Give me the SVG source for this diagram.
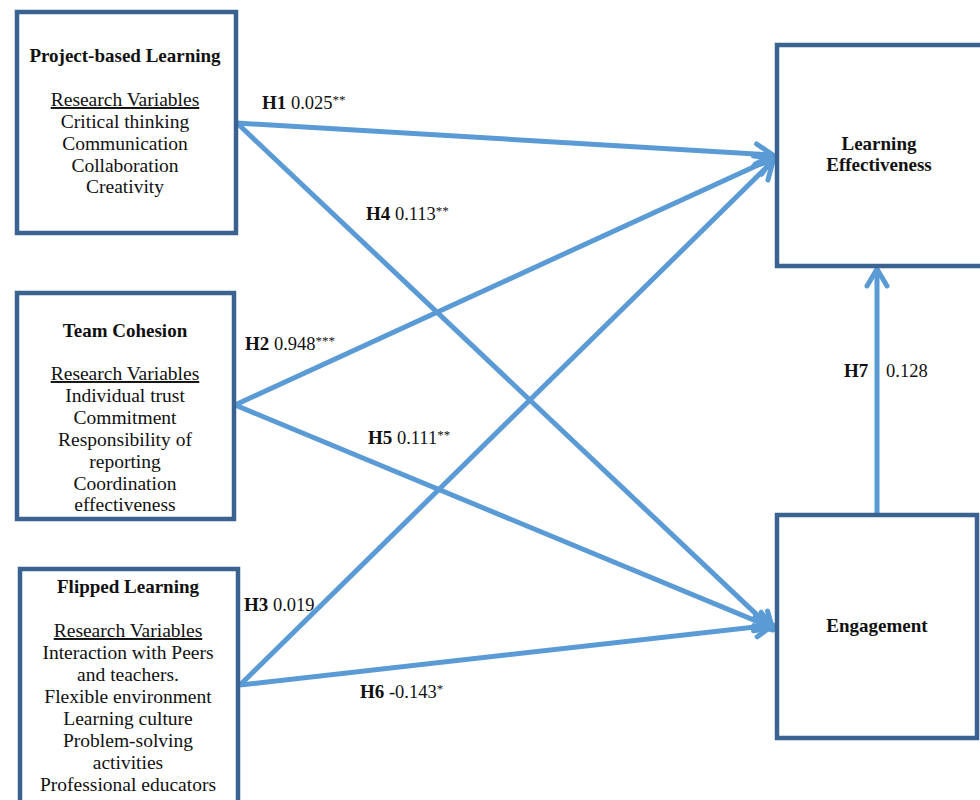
<svg xmlns="http://www.w3.org/2000/svg" width="980" height="800" viewBox="0 0 980 800">
<style>
.box{fill:#fff;stroke:#3A6391;stroke-width:4.5}
.t{font-family:"Liberation Serif","Times New Roman",serif;font-size:19.5px;fill:#111;text-anchor:middle}
.b{font-weight:bold;font-size:19px}
.u{text-decoration:underline}
.lab{font-family:"Liberation Serif","Times New Roman",serif;font-size:18.5px;fill:#111}
.con{stroke:#5B9BD5;stroke-width:5;fill:none;marker-end:url(#arr)}
</style>
<defs>
<marker id="arr" markerUnits="userSpaceOnUse" markerWidth="30" markerHeight="30" viewBox="0 0 30 30" refX="26" refY="15" orient="auto">
<path d="M9,5 L26,15 L9,25" fill="none" stroke="#5B9BD5" stroke-width="5" stroke-linecap="round" stroke-linejoin="round"/>
</marker>
</defs>
<rect width="980" height="800" fill="#fff"/>
<g id="connectors">
<line class="con" x1="237" y1="123" x2="773" y2="155"/>
<line class="con" x1="237" y1="123" x2="773" y2="630"/>
<line class="con" x1="235" y1="405" x2="773" y2="158"/>
<line class="con" x1="235" y1="405" x2="773" y2="628"/>
<line class="con" x1="240" y1="685" x2="773" y2="161"/>
<line class="con" x1="240" y1="685" x2="773" y2="625"/>
<line class="con" x1="877" y1="513" x2="877" y2="269"/>
</g>
<g id="labels">
<text class="lab" x="262" y="109"><tspan class="b">H1</tspan> 0.025<tspan font-size="13" dy="-5">**</tspan></text>
<text class="lab" x="366" y="220"><tspan class="b">H4</tspan> 0.113<tspan font-size="13" dy="-5">**</tspan></text>
<text class="lab" x="245" y="350"><tspan class="b">H2</tspan> 0.948<tspan font-size="13" dy="-5">***</tspan></text>
<text class="lab" x="368" y="444"><tspan class="b">H5</tspan>  0.111<tspan font-size="13" dy="-5">**</tspan></text>
<text class="lab" x="244" y="611"><tspan class="b">H3</tspan> 0.019</text>
<text class="lab" x="360" y="698"><tspan class="b">H6</tspan> -0.143<tspan font-size="13" dy="-5">*</tspan></text>
<text class="lab" x="844" y="377"><tspan class="b">H7</tspan></text>
<text class="lab" x="886" y="377">0.128</text>
</g>
<g id="pbl">
<rect class="box" x="17" y="12" width="219" height="221"/>
<text class="t b" x="125" y="62">Project-based Learning</text>
<text class="t u" x="125" y="106">Research Variables</text>
<text class="t" x="125" y="128">Critical thinking</text>
<text class="t" x="125" y="150">Communication</text>
<text class="t" x="125" y="172">Collaboration</text>
<text class="t" x="125" y="193">Creativity</text>
</g>
<g id="tc">
<rect class="box" x="17" y="293" width="217" height="226"/>
<text class="t b" x="125" y="337">Team Cohesion</text>
<text class="t u" x="125" y="380">Research Variables</text>
<text class="t" x="125" y="402">Individual trust</text>
<text class="t" x="125" y="424">Commitment</text>
<text class="t" x="125" y="446">Responsibility of</text>
<text class="t" x="125" y="468">reporting</text>
<text class="t" x="125" y="490">Coordination</text>
<text class="t" x="125" y="511">effectiveness</text>
</g>
<g id="fl">
<rect class="box" x="20" y="569" width="218" height="240"/>
<text class="t b" x="128" y="593">Flipped Learning</text>
<text class="t u" x="128" y="637">Research Variables</text>
<text class="t" x="128" y="659">Interaction with Peers</text>
<text class="t" x="128" y="681">and teachers.</text>
<text class="t" x="128" y="703">Flexible environment</text>
<text class="t" x="128" y="725">Learning culture</text>
<text class="t" x="128" y="747">Problem-solving</text>
<text class="t" x="128" y="769">activities</text>
<text class="t" x="128" y="791">Professional educators</text>
</g>
<g id="le">
<rect class="box" x="777" y="45" width="210" height="221"/>
<text class="t b" x="879" y="150">Learning</text>
<text class="t b" x="879" y="171">Effectiveness</text>
</g>
<g id="eng">
<rect class="box" x="777" y="515" width="200" height="223"/>
<text class="t b" x="877" y="632">Engagement</text>
</g>
</svg>
